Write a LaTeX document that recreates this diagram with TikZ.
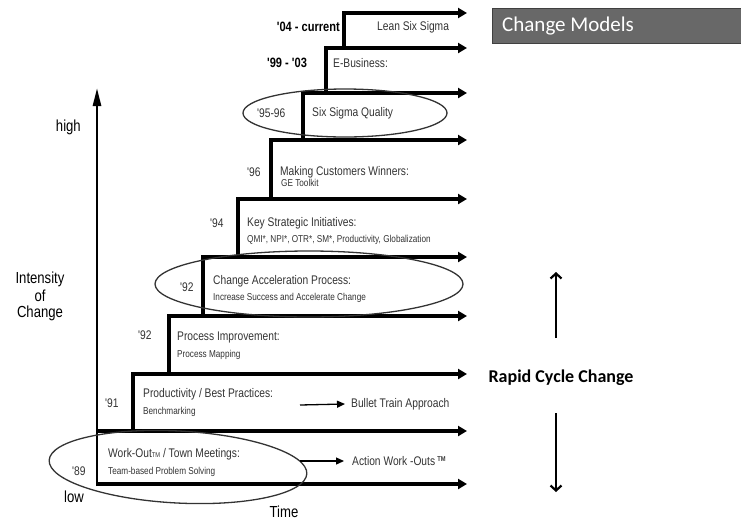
\documentclass[tikz,border=0pt]{standalone}
\usepackage{fontspec}
\setmainfont{Liberation Sans}
\newfontfamily\narrowfont[FakeStretch=0.82]{Liberation Sans}
\newfontfamily\calfont{Carlito}
\usetikzlibrary{arrows.meta}
\definecolor{txt}{HTML}{333333}
\definecolor{boxgray}{HTML}{686868}
\begin{document}
\begin{tikzpicture}[x=1pt,y=-1pt,
  stepline/.style={line width=3.4pt, line join=miter, -{Triangle[length=9pt,width=10pt]}},
  lbl/.style={font=\narrowfont\fontsize{12.5}{14}\selectfont, text=txt, inner sep=0pt, anchor=west},
  sublbl/.style={font=\narrowfont\fontsize{10}{12}\selectfont, text=txt, inner sep=0pt, anchor=west},
  yearlbl/.style={font=\narrowfont\fontsize{12.5}{14}\selectfont, text=txt, inner sep=0pt},
  boldlbl/.style={font=\narrowfont\bfseries\fontsize{13.5}{15}\selectfont, text=black, inner sep=0pt},
  axislbl/.style={font=\narrowfont\fontsize{16}{18}\selectfont, text=black, inner sep=0pt},
  ring/.style={draw=txt, line width=1.3pt},
  smallarrow/.style={line width=1.3pt, -{Triangle[length=8pt,width=7pt]}},
  sidearrow/.style={line width=2.2pt, -{Straight Barb[length=5pt,width=11pt,line width=2.2pt]}}
]
\path[use as bounding box] (0,0) rectangle (741,523);

% axis
\coordinate (ax0) at (97,486);
\coordinate (ax1) at (97,88);
\draw[line width=2.6pt, -{Triangle[length=18pt,width=8pt]}] (ax0) -- (ax1);

% step coordinates
\coordinate (s0) at (97,484);  \coordinate (e0) at (467,484);
\coordinate (s1) at (97,431);  \coordinate (e1) at (467,431);
\coordinate (r2) at (133,431); \coordinate (s2) at (133,374); \coordinate (e2) at (467,374);
\coordinate (r3) at (169,374); \coordinate (s3) at (169,316); \coordinate (e3) at (467,316);
\coordinate (r4) at (203,316); \coordinate (s4) at (203,257); \coordinate (e4) at (467,257);
\coordinate (r5) at (238,257); \coordinate (s5) at (238,199); \coordinate (e5) at (467,199);
\coordinate (r6) at (271,199); \coordinate (s6) at (271,140); \coordinate (e6) at (467,140);
\coordinate (r7) at (303,140); \coordinate (s7) at (303,93);  \coordinate (e7) at (467,93);
\coordinate (r8) at (326,93);  \coordinate (s8) at (326,48);  \coordinate (e8) at (467,48);
\coordinate (r9) at (344,48);  \coordinate (s9) at (344,13);  \coordinate (e9) at (467,13);

\draw[stepline] (s0) -- (e0);
\draw[stepline] (s1) -- (e1);
\draw[stepline] (r2) -- (s2) -- (e2);
\draw[stepline] (r3) -- (s3) -- (e3);
\draw[stepline] (r4) -- (s4) -- (e4);
\draw[stepline] (r5) -- (s5) -- (e5);
\draw[stepline] (r6) -- (s6) -- (e6);
\draw[stepline] (r7) -- (s7) -- (e7);
\draw[stepline] (r8) -- (s8) -- (e8);
\draw[stepline] (r9) -- (s9) -- (e9);

% ellipses
\draw[ring] (345,113) ellipse [x radius=102, y radius=24];
\draw[ring] (309,284) ellipse [x radius=154, y radius=33];
\draw[ring, rotate around={-3:(178,467)}] (178,467) ellipse [x radius=129, y radius=36];

% axis labels
\node[axislbl, anchor=east] (high) at (81,127) {high};
\node[axislbl, align=center] (intensity) at (40,296) {Intensity\\[0pt]of\\[-2pt]Change};
\node[axislbl, anchor=east] (low) at (84,497) {low};
\node[axislbl] (time) at (284,512) {Time};

% year labels
\node[boldlbl, anchor=east] (y04) at (340,27) {'04 - current};
\node[boldlbl, anchor=west] (y99) at (267,63) {'99 - '03};
\node[yearlbl, anchor=west] (y95) at (257,113) {'95-96};
\node[yearlbl, anchor=west] (y96) at (247,172) {'96};
\node[yearlbl, anchor=west] (y94) at (210,223) {'94};
\node[yearlbl, anchor=west] (y92a) at (180,287) {'92};
\node[yearlbl, anchor=west] (y92b) at (138,335) {'92};
\node[yearlbl, anchor=west] (y91) at (105,403) {'91};
\node[yearlbl, anchor=west] (y89) at (72,471) {'89};

% step texts
\node[lbl] (lean) at (377,27) {Lean Six Sigma};
\node[lbl] (ebiz) at (333,63) {E-Business:};
\node[lbl] (sixsig) at (312,113) {Six Sigma Quality};
\node[lbl] (mcw) at (280,172) {Making Customers Winners:};
\node[sublbl] (getool) at (281,183) {GE Toolkit};
\node[lbl] (ksi) at (247,223) {Key Strategic Initiatives:};
\node[sublbl] (qmi) at (247,240) {QMI*, NPI*, OTR*, SM*, Productivity, Globalization};
\node[lbl] (cap) at (213,281) {Change Acceleration Process:};
\node[sublbl] (inc) at (213,298) {Increase Success and Accelerate Change};
\node[lbl] (pi) at (177,337) {Process Improvement:};
\node[sublbl] (pm) at (177,355) {Process Mapping};
\node[lbl] (pbp) at (143,394) {Productivity / Best Practices:};
\node[sublbl] (bm) at (143,412) {Benchmarking};
\node[lbl] (wo) at (108,454) {Work-Out{\fontsize{7}{8}\selectfont TM} / Town Meetings:};
\node[sublbl] (tb) at (108,472) {Team-based Problem Solving};

\node[lbl] (btrain) at (351,404) {Bullet Train Approach};
\node[lbl] (awo) at (352,461) {Action Work -Outs\,\textsuperscript{\fontsize{7}{8}\selectfont\bfseries TM}};
\coordinate (bt0) at (300,405);
\coordinate (aw0) at (300,461);
\draw[smallarrow] (bt0) -- (btrain.west -| 345,0);
\draw[smallarrow] (aw0) -- (awo.west -| 344,0);

% right side
\node[draw=black!75, fill=boxgray, line width=0.8pt, minimum height=35pt, minimum width=260pt,
      inner sep=0pt, anchor=north west] (cmbox) at (492,8) {};
\node[font=\calfont\fontsize{21}{25}\selectfont, text=white, anchor=west, inner sep=0pt] (cm) at (502,26) {Change Models};

\node[font=\calfont\bfseries\fontsize{18}{21}\selectfont, text=black, inner sep=0pt] (rcc) at (561,378) {Rapid Cycle Change};
\coordinate (up0) at (556,338);
\coordinate (up1) at (556,272);
\coordinate (dn0) at (556,413);
\coordinate (dn1) at (556,492);
\draw[sidearrow] (up0) -- (up1);
\draw[sidearrow] (dn0) -- (dn1);
\end{tikzpicture}
\end{document}
